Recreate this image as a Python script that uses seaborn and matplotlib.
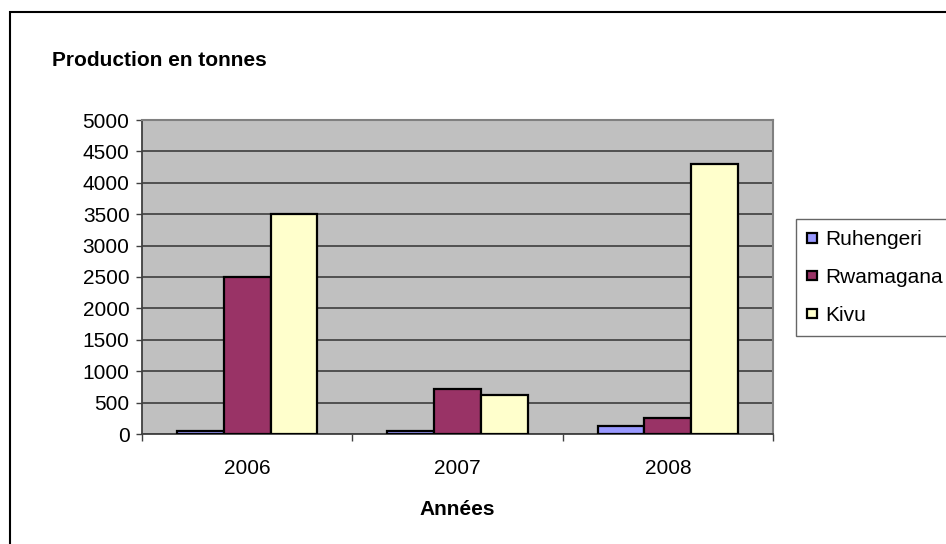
import matplotlib
matplotlib.use("Agg")
import matplotlib.pyplot as plt
import matplotlib.patches as mpatches
import seaborn as sns
import pandas as pd

years = ["2006", "2007", "2008"]
regions = ["Ruhengeri", "Rwamagana", "Kivu"]
ruhengeri = [55, 55, 130]
rwamagana = [2500, 720, 260]
kivu = [3500, 625, 4300]
yticks = list(range(0, 5001, 500))
colors = ["#9999FF", "#993366", "#FFFFCC"]

rows = []
for r, vals in zip(regions, [ruhengeri, rwamagana, kivu]):
    for y, v in zip(years, vals):
        rows.append({"Année": y, "Production": v, "Région": r})
df = pd.DataFrame(rows)

sns.set_theme(style="white")
plt.rcParams["font.family"] = ["Liberation Sans", "DejaVu Sans"]
plt.rcParams["text.color"] = "black"
plt.rcParams["axes.labelcolor"] = "black"
plt.rcParams["xtick.color"] = "black"
plt.rcParams["ytick.color"] = "black"

FS = 15

fig = plt.figure(figsize=(9.46, 5.44), dpi=100)
ax = fig.add_axes([142/946, 1-434/544, (773-142)/946, (434-120)/544])
ax.set_facecolor("#C0C0C0")

sns.barplot(data=df, x="Année", y="Production", hue="Région", order=years,
            hue_order=regions, palette=colors, saturation=1, width=0.667,
            edgecolor="black", linewidth=1.6, ax=ax, legend=True, zorder=3)

ax.set_ylim(0, 5000)
ax.set_xlim(-0.5, 2.5)
ax.set_yticks(yticks)
ax.set_yticklabels([str(t) for t in yticks], fontsize=FS)
ax.yaxis.grid(True, color="#484848", linewidth=1.3, zorder=1)
ax.set_axisbelow(True)
ax.tick_params(axis="y", direction="out", length=4, width=1, color="#404040",
               labelcolor="black", left=True, pad=5)
ax.set_xticks(range(3))
ax.set_xticklabels(years, fontsize=FS)
ax.tick_params(axis="x", which="major", length=0, pad=18, labelcolor="black")
ax.set_xticks([-0.5, 0.5, 1.5, 2.5], minor=True)
ax.tick_params(axis="x", which="minor", direction="out", length=5, width=1,
               color="#404040", bottom=True)
for s in ["top", "right"]:
    ax.spines[s].set_color("#808080")
    ax.spines[s].set_linewidth(1.5)
for s in ["left", "bottom"]:
    ax.spines[s].set_color("#404040")
    ax.spines[s].set_linewidth(1.3)
ax.set_ylabel("")
ax.set_xlabel("Années", fontsize=FS, fontweight="bold", labelpad=16, color="black")

handles, labels = ax.get_legend_handles_labels()
ax.get_legend().remove()
leg = fig.legend(handles, labels, loc="upper left",
                 bbox_to_anchor=(796/946, 1-219/544), fontsize=FS,
                 frameon=True, fancybox=False, edgecolor="#404040",
                 handlelength=0.48, handleheight=0.3, handletextpad=0.35,
                 labelspacing=0.9, borderpad=0.55, borderaxespad=0)
leg.get_frame().set_linewidth(1.0)
for t in leg.get_texts():
    t.set_color("black")

fig.text(52/946, 1-60/544, "Production en tonnes", fontsize=FS,
         fontweight="bold", va="center", ha="left", color="black")

border = mpatches.Rectangle((10/946, -0.1), 1.0, 1.1 - 12/544,
                            transform=fig.transFigure, fill=False,
                            edgecolor="black", linewidth=1.5)
fig.patches.append(border)

fig.savefig("out.png", dpi=100)
